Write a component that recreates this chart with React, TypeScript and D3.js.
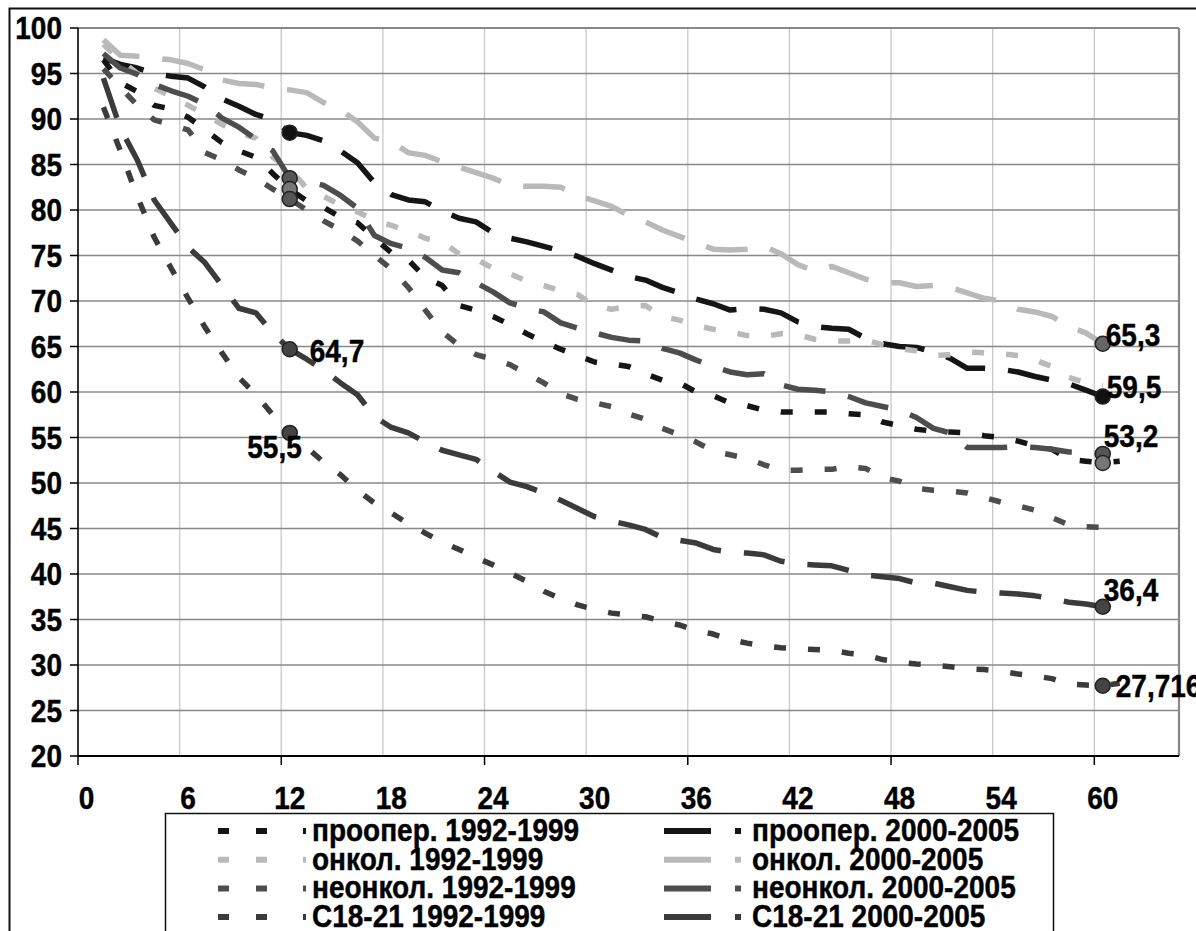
import React, { useEffect, useRef } from "react";
import * as d3 from "d3";

// x категории: месяцы, подписи каждые 6
const xTickLabels = ["0", "6", "12", "18", "24", "30", "36", "42", "48", "54", "60"];
const yTickValues = [20, 25, 30, 35, 40, 45, 50, 55, 60, 65, 70, 75, 80, 85, 90, 95, 100];

// значения с 1-го месяца
const proOper9299 = [96.5, 94.0, 93.0, 91.5, 91.1, 90.2, 88.8, 87.4, 86.5, 85.8, 84.0, 82.3, 81.0, 80.3, 79.2, 78.6, 76.9, 75.3, 74.5, 72.6, 71.7, 69.5, 69.0, 68.3, 67.4, 66.4, 65.5, 64.7, 64.0, 63.3, 63.1, 62.8, 62.0, 61.3, 61.0, 60.0, 59.6, 58.8, 58.5, 58.0, 57.8, 57.8, 57.8, 57.8, 57.6, 57.5, 56.7, 56.3, 55.9, 55.7, 55.6, 55.5, 55.2, 55.0, 54.6, 54.1, 53.7, 52.6, 52.4, 52.2, 52.4];
const proOper0005 = [96.7, 96.0, 95.6, 95.0, 94.7, 94.5, 93.5, 92.2, 91.4, 90.5, 89.9, 88.5, 88.2, 87.6, 86.5, 85.2, 83.0, 81.7, 81.1, 80.9, 79.9, 79.1, 78.7, 77.5, 76.9, 76.5, 76.0, 75.5, 74.9, 74.1, 73.4, 72.7, 72.3, 71.5, 70.9, 70.2, 69.7, 69.0, 69.2, 69.1, 68.7, 67.7, 67.2, 67.0, 66.9, 65.9, 65.3, 65.0, 64.9, 64.4, 63.7, 62.6, 62.6, 62.5, 62.2, 61.7, 61.3, 60.9, 60.2, 59.5];
const onkol9299 = [98.2, 96.5, 95.0, 93.4, 92.5, 91.5, 90.5, 89.4, 88.5, 87.9, 85.8, 84.5, 82.4, 81.5, 80.5, 79.8, 78.9, 78.3, 77.7, 76.9, 76.5, 75.2, 74.6, 73.6, 73.0, 72.2, 71.7, 71.1, 70.7, 69.5, 69.1, 69.4, 69.5, 68.3, 67.9, 67.3, 66.9, 66.6, 66.2, 66.1, 66.4, 66.3, 65.8, 65.6, 65.6, 65.7, 65.2, 64.8, 64.5, 64.0, 64.1, 64.4, 64.3, 64.2, 64.0, 63.5, 62.8, 61.6, 61.0, 60.7];
const onkol0005 = [98.7, 97.0, 96.9, 96.7, 96.5, 96.1, 95.4, 94.3, 93.9, 93.8, 93.4, 93.2, 92.9, 91.8, 91.0, 89.7, 87.9, 87.5, 86.3, 86.0, 85.3, 84.7, 84.1, 83.5, 82.7, 82.6, 82.6, 82.5, 81.6, 81.0, 80.4, 79.4, 78.7, 77.8, 77.1, 76.4, 75.7, 75.6, 75.7, 76.0, 75.2, 74.0, 73.3, 73.8, 73.1, 72.4, 72.0, 72.0, 71.6, 71.7, 71.5, 70.9, 70.3, 70.0, 69.1, 68.8, 68.3, 67.2, 66.5, 65.3];
const neonkol9299 = [95.5, 93.5, 91.5, 89.9, 89.4, 88.8, 86.3, 85.5, 84.4, 83.5, 82.3, 81.2, 80.0, 78.8, 77.8, 76.6, 75.0, 73.5, 71.5, 69.0, 66.6, 65.1, 64.1, 63.6, 63.0, 62.0, 61.0, 59.8, 59.2, 58.8, 58.4, 57.6, 57.0, 56.0, 55.3, 54.5, 53.5, 53.1, 52.7, 52.0, 51.4, 51.4, 51.5, 51.5, 51.8, 51.6, 50.6, 50.2, 49.4, 49.2, 49.1, 48.9, 48.4, 47.9, 47.5, 47.0, 46.2, 45.4, 45.2, 45.1, 45.3];
const neonkol0005 = [97.2, 95.6, 94.9, 93.8, 93.1, 92.5, 91.6, 90.1, 89.1, 87.8, 86.5, 83.5, 83.2, 82.7, 81.6, 80.2, 77.2, 76.3, 75.8, 74.8, 73.4, 73.1, 72.0, 71.0, 69.8, 69.2, 68.8, 67.6, 67.0, 66.5, 66.0, 65.7, 65.6, 64.8, 64.3, 63.5, 62.8, 62.2, 61.9, 62.0, 60.8, 60.3, 60.2, 60.0, 59.5, 58.8, 58.4, 58.0, 57.2, 56.0, 55.5, 53.9, 53.9, 53.9, 54.0, 53.9, 53.7, 53.4, 53.4, 53.2];
const c1821_9299 = [91.3, 86.5, 81.5, 77.0, 73.6, 70.3, 67.1, 64.3, 61.6, 59.7, 57.5, 55.5, 53.9, 52.3, 50.9, 49.2, 47.8, 46.7, 45.5, 44.5, 43.5, 42.7, 41.8, 41.0, 40.1, 39.2, 38.1, 37.3, 36.6, 36.1, 35.7, 35.5, 35.3, 34.8, 34.4, 33.8, 33.4, 32.8, 32.4, 32.1, 31.9, 31.8, 31.7, 31.6, 31.3, 31.1, 30.6, 30.3, 30.1, 30.0, 29.8, 29.6, 29.5, 29.3, 29.0, 28.8, 28.5, 27.9, 27.8, 27.716, 28.0];
const c1821_0005 = [94.5, 89.0, 85.5, 81.1, 78.5, 75.9, 74.2, 71.7, 69.2, 68.7, 66.5, 64.7, 63.6, 62.4, 61.0, 59.7, 57.3, 56.1, 55.5, 54.5, 53.6, 53.1, 52.6, 51.3, 50.1, 49.6, 48.9, 48.1, 47.2, 46.3, 45.8, 45.4, 44.9, 44.0, 43.7, 43.4, 42.7, 42.4, 42.3, 42.1, 41.4, 41.1, 41.0, 40.9, 40.4, 39.9, 39.7, 39.5, 39.0, 39.0, 38.6, 38.2, 38.0, 37.9, 37.8, 37.6, 37.3, 36.9, 36.7, 36.4, 36.7];

const seriesNames = [
  "проопер. 1992-1999", "проопер. 2000-2005",
  "онкол. 1992-1999", "онкол. 2000-2005",
  "неонкол. 1992-1999", "неонкол. 2000-2005",
  "С18-21 1992-1999", "С18-21 2000-2005",
];
const seriesValues = [proOper9299, proOper0005, onkol9299, onkol0005, neonkol9299, neonkol0005, c1821_9299, c1821_0005];
const seriesColors = ["#151515", "#151515", "#b9b9b9", "#b9b9b9", "#4d4d4d", "#4d4d4d", "#3b3b3b", "#3b3b3b"];

// отмеченные точки: серия, месяц, подпись
const markedSeries = [1, 5, 0, 4, 7, 6, 3, 1, 5, 0, 7, 6];
const markedMonths = [12, 12, 12, 12, 12, 12, 60, 60, 60, 60, 60, 60];
const markedLabels = ["", "", "", "", "64,7", "55,5", "65,3", "59,5", "53,2", "", "36,4", "27,716"];
const markerFills = ["#111", "#555", "#777", "#555", "#444", "#444", "#666", "#111", "#555", "#777", "#444", "#444"];

const FONT = "'Liberation Sans', Arial, sans-serif";

export default function App() {
  const ref = useRef<SVGSVGElement>(null);

  useEffect(() => {
    const W = 1196;
    const H = 931;
    const left = 78, right = 1179, top = 28, bottom = 756;

    const x = d3.scaleLinear().domain([0, 65]).range([left, right]);
    const y = d3.scaleLinear().domain([20, 100]).range([bottom, top]);

    const svg = d3.select(ref.current).html("").attr("width", W).attr("height", H);
    svg.append("rect").attr("width", W).attr("height", H).attr("fill", "#fff");

    // жирный текст, чуть вытянутый по вертикали как в оригинале
    const label = (g: any, tx: number, ty: number, s: string | number, anchor = "start") =>
      g.append("text")
        .attr("transform", `translate(${tx},${ty}) scale(1,1.1)`)
        .attr("text-anchor", anchor)
        .attr("font-family", FONT).attr("font-weight", "bold").attr("font-size", 28)
        .attr("fill", "#000").attr("stroke", "#000").attr("stroke-width", 0.4)
        .text(s);

    // внешняя рамка
    svg.append("rect")
      .attr("x", 9.5).attr("y", 8.5).attr("width", 1260).attr("height", 1000)
      .attr("fill", "none").attr("stroke", "#111").attr("stroke-width", 2);

    // сетка
    const vGrid = d3.range(6, 61, 6);
    svg.append("g").selectAll("line").data(vGrid).enter().append("line")
      .attr("x1", (d) => x(d)).attr("x2", (d) => x(d))
      .attr("y1", top).attr("y2", bottom)
      .attr("stroke", "#c9c9c9").attr("stroke-width", 1.3);

    svg.append("g").selectAll("line").data(yTickValues.filter((v) => v > 20 && v < 100)).enter().append("line")
      .attr("x1", left).attr("x2", right)
      .attr("y1", (d) => y(d)).attr("y2", (d) => y(d))
      .attr("stroke", "#888").attr("stroke-width", 1.5);

    // рамка области построения
    svg.append("line").attr("x1", left).attr("x2", right).attr("y1", top).attr("y2", top)
      .attr("stroke", "#888").attr("stroke-width", 2.2);
    svg.append("line").attr("x1", right).attr("x2", right).attr("y1", top).attr("y2", bottom)
      .attr("stroke", "#888").attr("stroke-width", 2.2);

    // оси
    svg.append("line").attr("x1", left).attr("x2", left).attr("y1", top).attr("y2", bottom)
      .attr("stroke", "#000").attr("stroke-width", 1.6);
    svg.append("line").attr("x1", left).attr("x2", right).attr("y1", bottom).attr("y2", bottom)
      .attr("stroke", "#000").attr("stroke-width", 2);

    svg.append("g").selectAll("line").data(yTickValues).enter().append("line")
      .attr("x1", left - 8).attr("x2", left)
      .attr("y1", (d) => y(d)).attr("y2", (d) => y(d))
      .attr("stroke", "#000").attr("stroke-width", 1.5);
    const yAxisG = svg.append("g");
    yTickValues.forEach((v) => label(yAxisG, 62, y(v) + 11, v, "end"));

    svg.append("g").selectAll("line").data(d3.range(0, 61, 12)).enter().append("line")
      .attr("x1", (d) => x(d)).attr("x2", (d) => x(d))
      .attr("y1", bottom).attr("y2", bottom + 9)
      .attr("stroke", "#000").attr("stroke-width", 1.5);
    const xAxisG = svg.append("g");
    xTickLabels.forEach((t) => label(xAxisG, x(+t + 0.5), 809, t, "middle"));

    // линии
    const line = d3.line<number>()
      .x((d, i) => x(i + 1 + 0.5))
      .y((d) => y(d));

    seriesValues.forEach((vals, si) => {
      const longDash = si % 2 === 1;
      svg.append("path")
        .datum(vals)
        .attr("d", line)
        .attr("fill", "none")
        .attr("stroke", seriesColors[si])
        .attr("stroke-width", 5.5)
        .attr("stroke-dasharray", longDash ? "42,23" : "12,22")
        .attr("stroke-linejoin", "round");
    });

    // маркеры и подписи (смещение базовой линии от маркера)
    const labelOffsets: Record<string, [number, number, string]> = {
      "64,7": [20, 13, "start"],
      "55,5": [12, 25, "end"],
      "65,3": [3, 2, "start"],
      "59,5": [4, 1, "start"],
      "53,2": [1, -7, "start"],
      "36,4": [1, -6, "start"],
      "27,716": [13, 11, "start"],
    };
    markedSeries.forEach((si, k) => {
      const m = markedMonths[k];
      const v = markedLabels[k] ? +markedLabels[k].replace(",", ".") : seriesValues[si][m - 1];
      svg.append("circle")
        .attr("cx", x(m + 0.5)).attr("cy", y(v)).attr("r", 7.5)
        .attr("fill", markerFills[k]).attr("stroke", "#222").attr("stroke-width", 1.5);
    });
    const lblG = svg.append("g");
    markedSeries.forEach((si, k) => {
      const lab = markedLabels[k];
      if (!lab) return;
      const m = markedMonths[k];
      const [dx, dy, anchor] = labelOffsets[lab];
      label(lblG, x(m + 0.5) + dx, y(+lab.replace(",", ".")) + dy, lab, anchor);
    });

    // легенда
    const lg = svg.append("g");
    lg.append("rect").attr("x", 165.5).attr("y", 813.5).attr("width", 888).attr("height", 200)
      .attr("fill", "#fff").attr("stroke", "#111").attr("stroke-width", 1.5);
    seriesNames.forEach((name, si) => {
      const col = si % 2;
      const row = Math.floor(si / 2);
      const cy = 831 + row * 28.7;
      const x0 = col === 0 ? 218 : 664;
      const x1 = col === 0 ? 306 : 741;
      lg.append("line")
        .attr("x1", x0).attr("x2", x1).attr("y1", cy).attr("y2", cy)
        .attr("stroke", seriesColors[si]).attr("stroke-width", 6)
        .attr("stroke-dasharray", col === 0 ? "11,27,11,36,3" : "47,24,6");
      label(lg, col === 0 ? 312 : 752, cy + 10, name);
    });
  }, []);

  return (
    <div style={{ position: "absolute", left: 0, top: 0 }}>
      <svg ref={ref} style={{ display: "block" }} />
    </div>
  );
}
